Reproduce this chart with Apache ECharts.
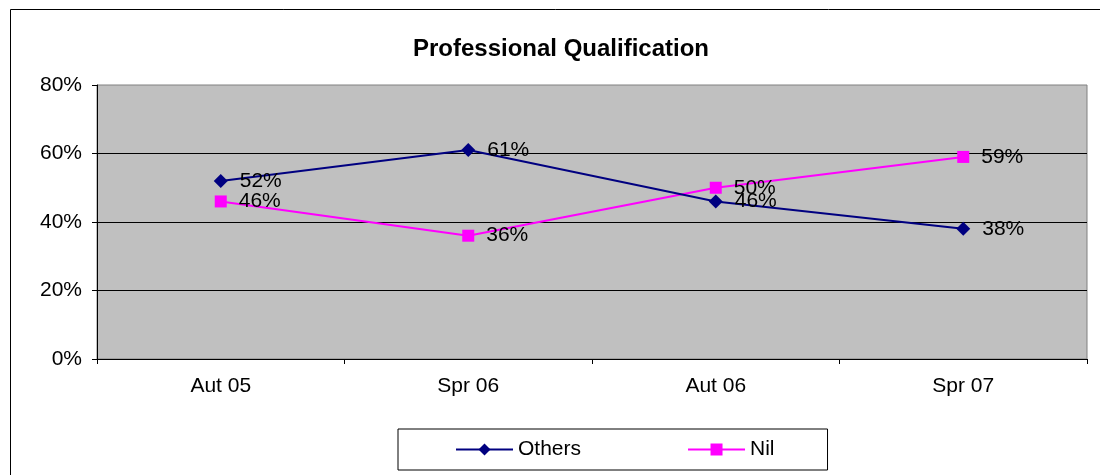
<!DOCTYPE html>
<html>
<head>
<meta charset="utf-8">
<script src="https://cdn.jsdelivr.net/npm/echarts@6/dist/echarts.min.js"></script>
<style>
  html, body { margin: 0; padding: 0; background: #fff; overflow: hidden; }
  #chart { width: 1100px; height: 475px; }
</style>
</head>
<body>
<div id="chart"></div>
<script>
// data
const categories = ['Aut 05', 'Spr 06', 'Aut 06', 'Spr 07'];
const others = [52, 61, 46, 38];
const nil = [46, 36, 50, 59];
const yTicks = [0, 20, 40, 60, 80];

const font = '"Liberation Sans", Arial, sans-serif';

const chart = echarts.init(document.getElementById('chart'));

const labelStyle = {
  show: true,
  position: 'right',
  distance: 12,
  color: '#000',
  fontSize: 21,
  fontFamily: font,
  formatter: p => p.value + '%'
};

chart.setOption({
  backgroundColor: '#fff',
  animation: false,
  title: {
    text: 'Professional Qualification',
    left: 556,
    top: 32,
    textAlign: 'center',
    textStyle: { color: '#000', fontSize: 24, fontWeight: 'bold', fontFamily: font }
  },
  graphic: [{
    type: 'rect',
    shape: { x: 10.5, y: 9.5, width: 1200, height: 600 },
    style: { fill: 'none', stroke: '#000', lineWidth: 1 },
    silent: true
  }],
  grid: {
    left: 97, right: 13, top: 85, bottom: 116,
    show: true,
    backgroundColor: '#c0c0c0',
    borderColor: '#808080',
    borderWidth: 1
  },
  legend: {
    left: 398,
    top: 429,
    padding: [10, 53, 10, 57],
    itemGap: 106,
    itemWidth: 57,
    itemHeight: 15,
    borderColor: '#000',
    borderWidth: 1,
    textStyle: { color: '#000', fontSize: 21, fontFamily: font },
    data: ['Others', 'Nil']
  },
  xAxis: {
    type: 'category',
    data: categories,
    boundaryGap: true,
    axisLine: { lineStyle: { color: '#000', width: 1 } },
    axisTick: { show: true, inside: false, length: 5, alignWithLabel: false, lineStyle: { color: '#000' } },
    axisLabel: { color: '#000', fontSize: 21, fontFamily: font, margin: 17 },
    splitLine: { show: false }
  },
  yAxis: {
    type: 'value',
    min: yTicks[0],
    max: yTicks[yTicks.length - 1],
    interval: yTicks[1] - yTicks[0],
    axisLine: { show: true, lineStyle: { color: '#000', width: 1 } },
    axisTick: { show: true, inside: false, length: 5, lineStyle: { color: '#000' } },
    axisLabel: { color: '#000', fontSize: 21, fontFamily: font, margin: 15, formatter: '{value}%' },
    splitLine: { show: true, showMaxLine: false, lineStyle: { color: '#000', width: 1 } }
  },
  series: [{
    name: 'Others',
    type: 'line',
    data: others,
    symbol: 'diamond',
    symbolSize: 14,
    lineStyle: { color: '#000080', width: 2 },
    itemStyle: { color: '#000080' },
    label: labelStyle,
    z: 3
  }, {
    name: 'Nil',
    type: 'line',
    data: nil,
    symbol: 'rect',
    symbolSize: 12,
    lineStyle: { color: '#ff00ff', width: 2 },
    itemStyle: { color: '#ff00ff' },
    label: labelStyle,
    z: 2
  }]
});
</script>
</body>
</html>
